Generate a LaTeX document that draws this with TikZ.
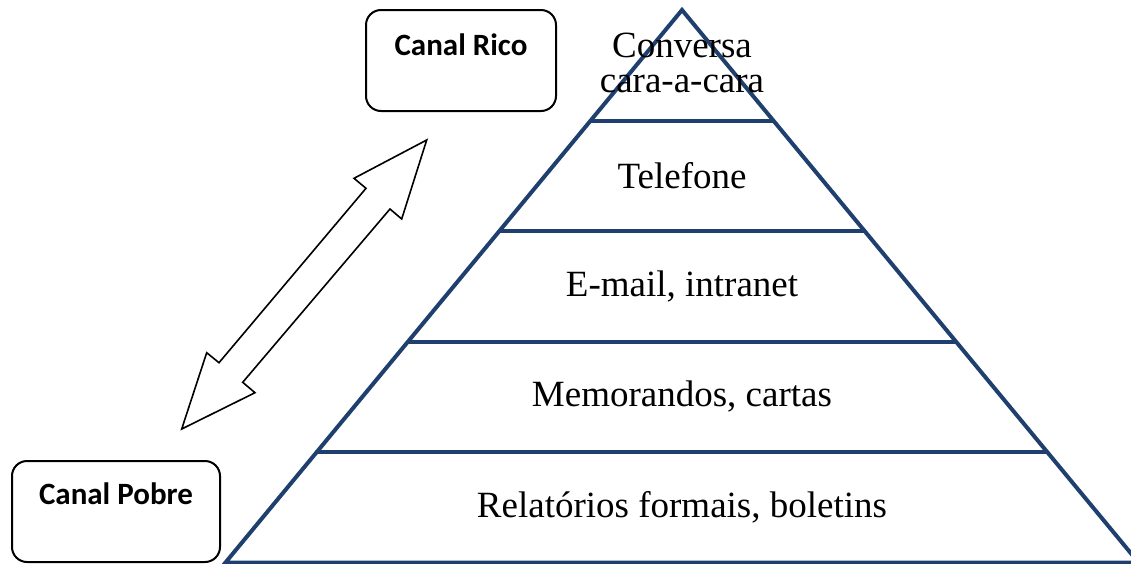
\documentclass[tikz,border=0pt]{standalone}
\usepackage{fontspec}
\setmainfont{Liberation Serif}
\newfontfamily\boxfont{Carlito}
\usepackage{tikz}
\usetikzlibrary{calc, positioning}
\definecolor{pyrblue}{RGB}{31,64,110}
\tikzset{
    chanbox/.style={rectangle, rounded corners=7.5pt, draw=black, line width=1pt, minimum width=95pt, minimum height=50.5pt},
    chanlabel/.style={font=\boxfont\bfseries\fontsize{15.5}{17}\selectfont, inner sep=0pt},
    tierlabel/.style={font=\fontsize{18.5}{17.5}\selectfont, align=center, inner sep=0pt},
    pyrline/.style={draw=pyrblue, line width=2pt},
    bigarrow/.style={draw=black, line width=0.8pt, fill=white}
}
\begin{document}
\begin{tikzpicture}[x=0.5pt, y=-0.5pt]
    \useasboundingbox (0,0) rectangle (1131,563);

    % pyramid
    \coordinate (apex) at (682,10);
    \coordinate (bl) at (225.5,562.5);
    \coordinate (br) at (1138.5,562.5);
    \coordinate (mid) at ($(bl)!0.5!(br)$);
    \draw [pyrline, line join=miter] (apex) -- (bl) -- (br) -- cycle;
    \foreach \f in {0.2,0.4,0.6,0.8}
        \draw [pyrline] ($(apex)!\f!(bl)$) -- ($(apex)!\f!(br)$);

    \node (t1) [tierlabel] at ($(apex)!0.095!(mid)$) {Conversa\\cara-a-cara};
    \node (t2) [tierlabel] at ($(apex)!0.3!(mid)$) {Telefone};
    \node (t3) [tierlabel] at ($(apex)!0.5!(mid)$) {E-mail, intranet};
    \node (t4) [tierlabel] at ($(apex)!0.7!(mid)$) {Memorandos, cartas};
    \node (t5) [tierlabel] at ($(apex)!0.9!(mid)$) {Relatórios formais, boletins};

    % channel boxes
    \node (rico) [chanbox] at (461,60.5) {};
    \node (pobre) [chanbox, minimum width=104pt] at (116,511.5) {};
    \node (ricotxt) [chanlabel] at ([yshift=-18pt]rico.north) {Canal Rico};
    \node (pobretxt) [chanlabel] at ([yshift=-17pt]pobre.north) {Canal Pobre};

    % double block arrow
    \draw [bigarrow] (426.7,140) -- (401.7,219) -- (390,209) -- (242.7,382.3)
        -- (255,392.7) -- (181.7,429) -- (206.7,352.7) -- (219,362.7)
        -- (366,188.3) -- (354,178.3) -- cycle;
\end{tikzpicture}
\end{document}
